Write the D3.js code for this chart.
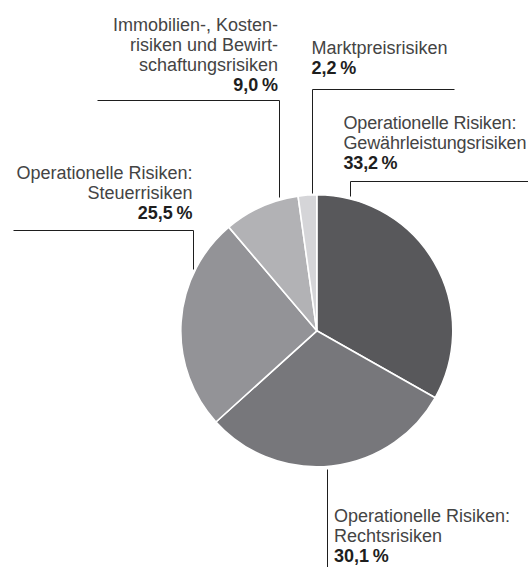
<!DOCTYPE html>
<html>
<head>
<meta charset="utf-8">
<script src="https://cdn.jsdelivr.net/npm/d3@7"></script>
<style>
  html, body { margin: 0; padding: 0; background: #fff; }
  svg { display: block; }
  text { font-family: "Liberation Sans", Arial, sans-serif; font-size: 18px; }
</style>
</head>
<body>
<svg id="chart" width="528" height="567"></svg>
<script>
// slices clockwise from 12 o'clock
const categories = [
  'Gewährleistungsrisiken',
  'Rechtsrisiken',
  'Steuerrisiken',
  'Immobilien-, Kostenrisiken und Bewirtschaftungsrisiken',
  'Marktpreisrisiken'
];
const labelLines = [
  ['Operationelle Risiken:', 'Gewährleistungsrisiken'],
  ['Operationelle Risiken:', 'Rechtsrisiken'],
  ['Operationelle Risiken:', 'Steuerrisiken'],
  ['Immobilien-, Kosten-', 'risiken und Bewirt-', 'schaftungsrisiken'],
  ['Marktpreisrisiken']
];
const values = [33.2, 30.1, 25.5, 9.0, 2.2];
const colors = ['#58585b', '#77777b', '#939397', '#b2b2b5', '#d5d5d8'];

// label placement (layout only)
let layout = [
  { x: 343.5, y: 129, anchor: 'start', lineX: 350, lineY: 181, hx: [350, 528], gap: 3, up: true, spacing: -0.15 },
  { x: 334, y: 521.7, anchor: 'start', lineX: 326.5, lineY: 567, hx: null, gap: 3, up: false, spacing: 0 },
  { x: 192.5, y: 178.5, anchor: 'end', lineX: 192.5, lineY: 230, hx: [13, 192.5], gap: 7, up: true, spacing: 0 },
  { x: 278, y: 31, anchor: 'end', lineX: 278.5, lineY: 100, hx: [97, 278.5], gap: 3, up: true, spacing: 0 },
  { x: 311.5, y: 54, anchor: 'start', lineX: 311.5, lineY: 88.5, hx: [311.5, 454], gap: 2, up: true, spacing: 0 }
];

let svg = d3.select('#chart');
let cx = 316.8, cy = 330.8, radius = 136;
let lineH = 20;

let locale = d3.formatLocale({ decimal: ',', thousands: '.', grouping: [3], currency: ['', ' €'] });
let fmt = locale.format('.1f');

let pie = d3.pie().sort(null).value(d => d);
let arc = d3.arc().innerRadius(0).outerRadius(radius);

let viewport = svg.append('g').attr('transform', `translate(${cx},${cy})`);

viewport.selectAll('path')
  .data(pie(values))
  .enter().append('path')
  .attr('d', arc)
  .attr('fill', (d, i) => colors[i])
  .attr('stroke', '#fff')
  .attr('stroke-width', 1.6)
  .attr('stroke-linejoin', 'round');

// leader lines
let lines = svg.append('g')
  .attr('stroke', '#1e1e1e')
  .attr('stroke-width', 1)
  .attr('fill', 'none');

layout.forEach((l, i) => {
  let dx = l.lineX - cx;
  let edge = Math.sqrt(radius * radius - dx * dx);
  let yEdge = l.up ? cy - edge - l.gap : cy + edge + l.gap;
  let pts = [];
  if (l.hx) {
    let other = l.hx[0] === l.lineX ? l.hx[1] : l.hx[0];
    pts.push([other, l.lineY], [l.lineX, l.lineY], [l.lineX, yEdge]);
  } else {
    pts.push([l.lineX, yEdge], [l.lineX, l.lineY]);
  }
  lines.append('path')
    .attr('d', d3.line()(pts.map(p => [Math.round(p[0]) + 0.5, Math.round(p[1]) + 0.5])));
});

// labels
let labels = svg.append('g');
layout.forEach((l, i) => {
  let t = labels.append('text')
    .attr('text-anchor', l.anchor)
    .attr('letter-spacing', l.spacing);
  labelLines[i].forEach((s, j) => {
    t.append('tspan')
      .attr('x', l.x)
      .attr('y', l.y + j * lineH)
      .attr('fill', '#444')
      .text(s);
  });
  t.append('tspan')
    .attr('x', l.x)
    .attr('y', l.y + labelLines[i].length * lineH)
    .attr('font-weight', 'bold')
    .attr('fill', '#1e1e1e')
    .text(fmt(values[i]) + '\u2009%');
});
</script>
</body>
</html>
